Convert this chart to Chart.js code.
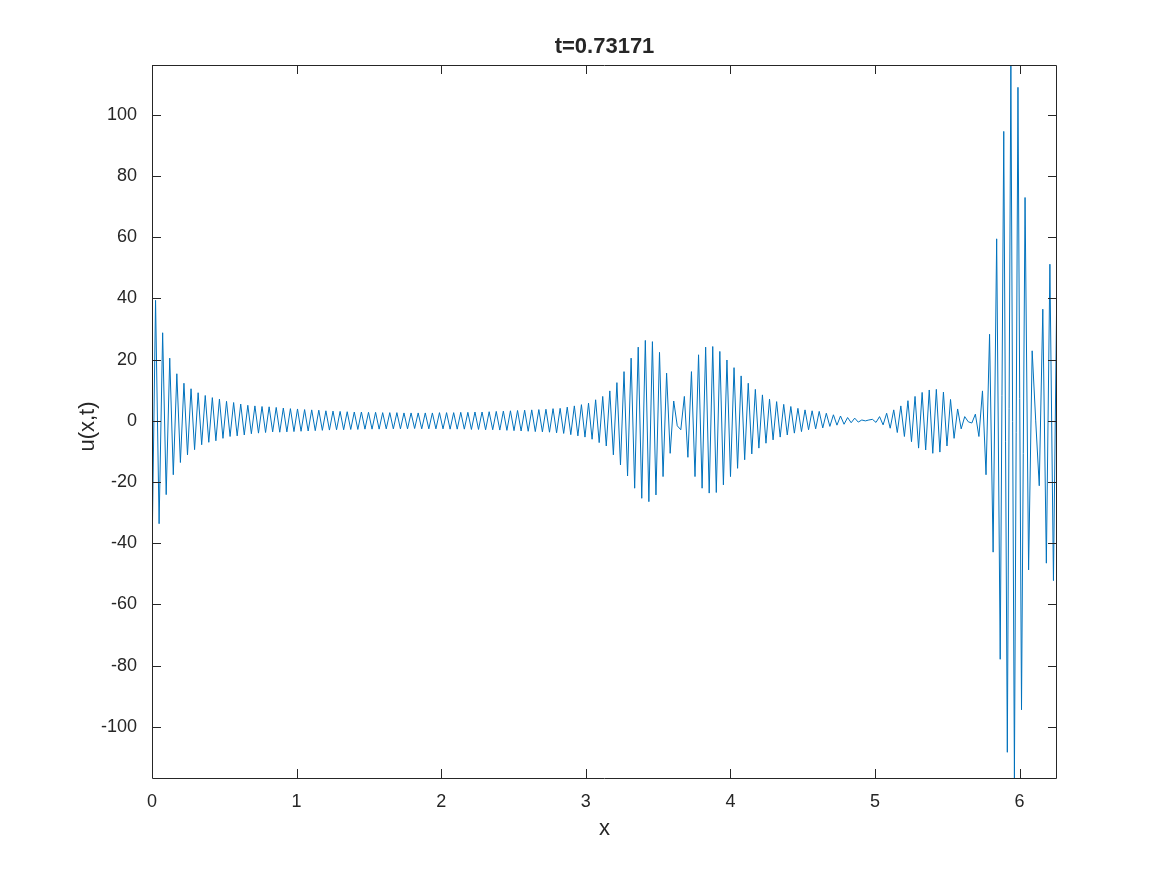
<!DOCTYPE html>
<html>
<head>
<meta charset="utf-8">
<title>u(x,t) at t=0.73171</title>
<script src="https://cdn.jsdelivr.net/npm/chart.js@4/dist/chart.umd.min.js"></script>
<style>
    body { margin: 0; background: #ffffff; }
    #wrap { width: 1167px; height: 875px; }
</style>
</head>
<body>
<div id="wrap"><canvas id="u-chart" width="1167" height="875"></canvas></div>
<script>
// Solution snapshot u(x,t) on a 256 point periodic grid

const TITLE_TEXT = 't=0.73171';
const X_LABEL = 'x';
const Y_LABEL = 'u(x,t)';

const GRID_POINTS = 256;
const X_TICKS = [0, 1, 2, 3, 4, 5, 6];
const Y_TICKS = [-100, -80, -60, -40, -20, 0, 20, 40, 60, 80, 100];
const Y_MIN = -116.7;
const Y_MAX = 116.3;

// j = 0..34, decaying ripple near x = 0
const uLeftEdge = [
    -44.5, 39.4, -33.6, 28.8, -24.1, 20.5, -17.6, 15.4, -13.6, 12.3,
    -11.1, 10.5, -9.4, 9.2, -7.8, 8.3, -7.0, 7.6, -6.5, 7.1,
    -5.7, 6.4, -5.1, 6.0, -4.9, 5.5, -4.6, 5.1, -4.2, 4.9,
    -4.0, 4.7, -3.8, 4.6, -3.6
];

// j = 35..114, flat stretch
const uFlat = [
    4.4, -3.7, 4.2, -3.6, 4.0, -3.5, 3.9, -3.4, 3.7, -3.3,
    3.6, -3.2, 3.5, -3.1, 3.3, -3.0, 3.2, -2.9, 3.1, -2.9,
    3.0, -2.8, 2.9, -2.8, 2.9, -2.7, 2.8, -2.7, 2.8, -2.7,
    2.7, -2.6, 2.7, -2.6, 2.7, -2.6, 2.6, -2.6, 2.6, -2.5,
    2.6, -2.6, 2.6, -2.6, 2.6, -2.6, 2.7, -2.6, 2.7, -2.7,
    2.7, -2.7, 2.8, -2.7, 2.8, -2.8, 2.9, -2.8, 2.9, -2.9,
    3.0, -2.9, 3.1, -3.0, 3.2, -3.1, 3.3, -3.2, 3.4, -3.3,
    3.5, -3.4, 3.6, -3.5, 3.7, -3.6, 3.8, -3.7, 4.0, -3.9
];

// j = 115..171, the two packets around x = 3.4 and x = 3.9
const uPackets = [
    4.1, -4.1, 4.5, -4.5, 4.9, -4.9, 5.3, -5.3, 5.8, -6.0,
    6.9, -7.1, 8.0, -8.2, 9.8, -11.1, 12.5, -14.4, 16.1, -18.0,
    20.5, -22.0, 24.1, -25.3, 26.3, -26.4, 25.9, -24.2, 22.4, -18.2,
    15.6, -10.6, 6.5, -1.6, -2.9, 8.0, -11.9, 16.1, -18.2, 21.6,
    -22.0, 24.1, -23.6, 24.3, -23.4, 22.7, -20.9, 19.9, -18.2, 17.4,
    -15.5, 14.7, -12.7, 12.3, -10.8, 10.3, -8.9
];

// j = 172..219, decay to the quiet point at x = 5 and the small packet after it
const uQuiet = [
    8.5, -7.3, 7.1, -6.2, 6.3, -5.3, 5.4, -4.6, 4.7, -4.0,
    4.1, -3.5, 3.6, -2.9, 3.3, -2.6, 3.1, -2.3, 2.5, -1.8,
    2.0, -1.4, 1.6, -1.1, 1.1, -0.6, 0.9, -0.4, 0.3, 0.0,
    0.3, 0.5, -0.5, 1.4, -1.3, 2.5, -2.4, 3.6, -3.8, 4.9,
    -5.1, 6.6, -6.8, 8.0, -8.9, 9.3, -9.5, 10.1
];

// j = 220..255, big burst near x = 6
const uRightEdge = [
    -10.6, 10.3, -10.2, 9.4, -8.2, 7.0, -5.7, 3.9, -2.6, 1.4,
    -0.3, -0.7, 2.2, -5.1, 9.8, -17.6, 28.3, -42.9, 59.5, -77.9,
    94.6, -108.3, 116.3, -116.7, 109.0, -94.4, 73.0, -48.7, 22.9, 0.0,
    -21.2, 36.5, -46.5, 51.2, -52.2, 49.3
];

const uValues = [].concat(uLeftEdge, uFlat, uPackets, uQuiet, uRightEdge);
const dx = 2 * Math.PI / GRID_POINTS;
const points = uValues.map((u, j) => ({ x: j * dx, y: u }));

const INK = '#262626';
const FONT_FAMILY = 'Liberation Sans, Helvetica, Arial, sans-serif';
const TICK_FONT = { family: FONT_FAMILY, size: 18 };

// MATLAB style box, inward ticks and labels
const matlabAxes = {
    id: 'matlabAxes',
    afterDraw(chart) {
        const ctx = chart.ctx;
        const a = chart.chartArea;
        const xs = chart.scales.x;
        const ys = chart.scales.y;
        const tickLen = 9;

        ctx.save();
        ctx.strokeStyle = INK;
        ctx.lineWidth = 1;
        ctx.beginPath();
        ctx.rect(Math.round(a.left) + 0.5, Math.round(a.top) + 0.5,
                 Math.round(a.right - a.left) - 1, Math.round(a.bottom - a.top));
        ctx.stroke();

        ctx.beginPath();
        X_TICKS.forEach(v => {
            const px = Math.round(xs.getPixelForValue(v)) + 0.5;
            ctx.moveTo(px, a.bottom);
            ctx.lineTo(px, a.bottom - tickLen);
            ctx.moveTo(px, a.top);
            ctx.lineTo(px, a.top + tickLen);
        });
        Y_TICKS.forEach(v => {
            const py = Math.round(ys.getPixelForValue(v)) + 0.5;
            ctx.moveTo(a.left, py);
            ctx.lineTo(a.left + tickLen, py);
            ctx.moveTo(a.right, py);
            ctx.lineTo(a.right - tickLen, py);
        });
        ctx.stroke();

        ctx.fillStyle = INK;
        ctx.textAlign = 'center';
        ctx.textBaseline = 'middle';
        ctx.font = 'bold 22px ' + FONT_FAMILY;
        ctx.fillText(TITLE_TEXT, (a.left + a.right) / 2, a.top - 18);

        ctx.font = '22px ' + FONT_FAMILY;
        ctx.fillText(X_LABEL, (a.left + a.right) / 2, a.bottom + 51);

        ctx.translate(a.left - 64, (a.top + a.bottom) / 2 + 5);
        ctx.rotate(-Math.PI / 2);
        ctx.fillText(Y_LABEL, 0, 0);
        ctx.restore();
    }
};

const ctx = document.getElementById('u-chart').getContext('2d');

new Chart(ctx, {
    type: 'line',
    data: {
        datasets: [{
            data: points,
            borderColor: '#0072BD',
            borderWidth: 1,
            pointRadius: 0,
            tension: 0,
            fill: false
        }]
    },
    options: {
        responsive: false,
        animation: false,
        events: [],
        layout: { padding: { top: 65, right: 110, left: 0, bottom: 0 } },
        plugins: {
            legend: { display: false },
            tooltip: { enabled: false },
            title: { display: false }
        },
        scales: {
            x: {
                type: 'linear',
                min: 0,
                max: (GRID_POINTS - 1) * dx,
                grid: { display: false },
                border: { display: false },
                afterBuildTicks: scale => { scale.ticks = X_TICKS.map(v => ({ value: v })); },
                afterFit: scale => { scale.height = 97; },
                ticks: { color: INK, font: TICK_FONT, padding: 5, maxRotation: 0, autoSkip: false }
            },
            y: {
                type: 'linear',
                min: Y_MIN,
                max: Y_MAX,
                grid: { display: false },
                border: { display: false },
                afterBuildTicks: scale => { scale.ticks = Y_TICKS.map(v => ({ value: v })); },
                afterFit: scale => { scale.width = 152; },
                ticks: { color: INK, font: TICK_FONT, padding: 7, autoSkip: false }
            }
        }
    },
    plugins: [matlabAxes]
});
</script>
</body>
</html>
